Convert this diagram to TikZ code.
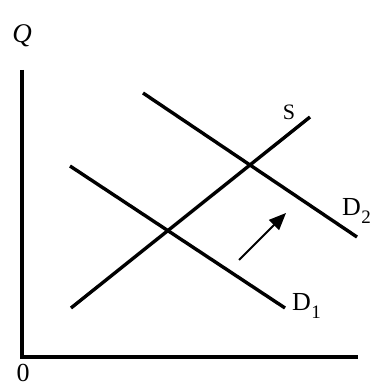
\documentclass[tikz,border=0pt]{standalone}
\usepackage{fontspec}
\setmainfont{Liberation Serif}
\usetikzlibrary{arrows.meta, positioning}

\newcommand{\lowsub}[1]{\kern0.5pt\raisebox{-8pt}{\fontsize{19}{19}\selectfont #1}}

\begin{document}
\begin{tikzpicture}[x=1pt, y=-1pt,
  axisline/.style={line width=3.4pt},
  curve/.style={line width=3.4pt},
  shiftarrow/.style={line width=2pt, -{Triangle[length=17pt, width=14pt]}},
  lbl/.style={inner sep=0pt, font=\fontsize{26}{26}\selectfont}]

  \useasboundingbox (0,0) rectangle (372,387);

  % --- Axes -------------------------------------------------------
  \coordinate (origin) at (22,357);
  \coordinate (ytop)   at (22,70);
  \coordinate (xend)   at (358,357);
  \draw[axisline] (ytop) -- (22,358.7);
  \draw[axisline] (20.3,357) -- (xend);
  \node[lbl, anchor=base, font=\fontsize{27}{27}\selectfont] (qlabel) at (22,43) {\textit{Q}};
  \node[lbl, anchor=base] (zero)   at (23,381) {0};

  % --- Supply and demand curves -------------------------------------
  \coordinate (s0)  at (71,308);
  \coordinate (s1)  at (310,117);
  \coordinate (da0) at (70,166);
  \coordinate (da1) at (285,308);
  \coordinate (db0) at (143,93);
  \coordinate (db1) at (357,237);
  \draw[curve] (s0) -- (s1);
  \draw[curve] (da0) -- (da1);
  \draw[curve] (db0) -- (db1);

  % Labels
  \node[lbl, anchor=base, font=\fontsize{22}{22}\selectfont] (slabel) at (289,120) {S};
  \node[lbl, anchor=base west] (d1label) at (292,310) {D\lowsub{1}};
  \node[lbl, anchor=base west] (d2label) at (342,215) {D\lowsub{2}};

  % Shift of demand
  \coordinate (shiftfrom) at (239,260);
  \coordinate (shiftto)   at (286,213);
  \draw[shiftarrow] (shiftfrom) -- (shiftto);
\end{tikzpicture}
\end{document}
